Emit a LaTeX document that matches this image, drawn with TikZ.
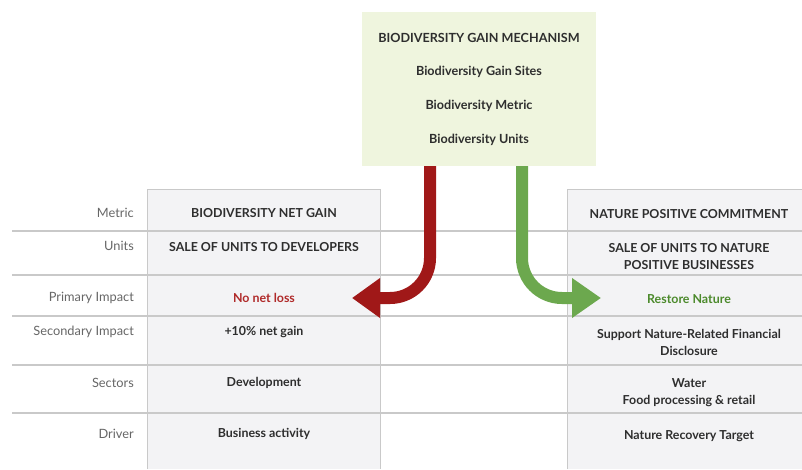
\documentclass[tikz,border=0pt]{standalone}
\usepackage{fontspec}
\setmainfont{Lato}
\usetikzlibrary{arrows.meta}
\definecolor{mechfill}{HTML}{EFF5DE}
\definecolor{colfill}{HTML}{F3F3F5}
\definecolor{rulegray}{HTML}{C9C9C9}
\definecolor{labgray}{HTML}{666666}
\definecolor{txt}{HTML}{2E2E2E}
\definecolor{redarrow}{HTML}{A01818}
\definecolor{greenarrow}{HTML}{6CA84E}
\definecolor{redtxt}{HTML}{B02A2A}
\definecolor{greentxt}{HTML}{4C8A2C}
\tikzset{
  rowlabel/.style={anchor=east, text=labgray, font=\fontsize{12.8}{14}\selectfont, inner sep=0pt},
  cell/.style={text=txt, font=\bfseries\fontsize{12.4}{17}\selectfont, align=center, inner sep=0pt},
  mechtxt/.style={text=txt, font=\bfseries\fontsize{12.6}{14}\selectfont, inner sep=0pt},
  rowrule/.style={draw=rulegray, line width=1.4pt},
  flow/.style={line width=12pt, rounded corners=40pt},
}
\begin{document}
\begin{tikzpicture}[x=1pt,y=-1pt]
\useasboundingbox (0,0) rectangle (802,469);
% columns
\fill[colfill] (147,189) rectangle (380,469);
\draw[rulegray, line width=1pt] (147,469) -- (147,189) -- (380,189) -- (380,469);
\fill[colfill] (567,189) rectangle (802,469);
\draw[rulegray, line width=1pt] (567,469) -- (567,189) -- (802,189);
% row rules
\foreach \yy in {231,275,316,365,413}
  \draw[rowrule] (12,\yy) -- (802,\yy);
% mechanism box
\node[fill=mechfill, minimum width=234pt, minimum height=154pt, inner sep=0pt] (mech) at (479,89) {};
\node[mechtxt] (m1) at (479,38) {BIODIVERSITY GAIN MECHANISM};
\node[mechtxt] (m2) at (479,72) {Biodiversity Gain Sites};
\node[mechtxt] (m3) at (479,106) {Biodiversity Metric};
\node[mechtxt] (m4) at (479,140) {Biodiversity Units};
% row labels
\node[rowlabel] (l1) at (134,213) {Metric};
\node[rowlabel] (l2) at (134,246) {Units};
\node[rowlabel] (l3) at (134,298) {Primary Impact};
\node[rowlabel] (l4) at (134,332) {Secondary Impact};
\node[rowlabel] (l5) at (134,383) {Sectors};
\node[rowlabel] (l6) at (134,434) {Driver};
% left column
\node[cell] (a1) at (264,213) {BIODIVERSITY NET GAIN};
\node[cell] (a2) at (264,247) {SALE OF UNITS TO DEVELOPERS};
\node[cell, text=redtxt] (a3) at (264,298) {No net loss};
\node[cell] (a4) at (264,332) {+10\% net gain};
\node[cell] (a5) at (264,383) {Development};
\node[cell] (a6) at (264,434) {Business activity};
% right column
\node[cell] (b1) at (689,214) {NATURE POSITIVE COMMITMENT};
\node[cell] (b2) at (689,256.5) {SALE OF UNITS TO NATURE\\POSITIVE BUSINESSES};
\node[cell, text=greentxt] (b3) at (689,299) {Restore Nature};
\node[cell] (b4) at (689,342.5) {Support Nature-Related Financial\\Disclosure};
\node[cell] (b5) at (689,392.5) {Water\\Food processing \& retail};
\node[cell] (b6) at (689,436) {Nature Recovery Target};
% arrows
\coordinate (redtip) at (352,298);
\coordinate (greentip) at (601,298);
\draw[flow, redarrow, -{Triangle[length=28pt,width=38pt]}] ([xshift=-49pt]mech.south) |- (redtip);
\draw[flow, greenarrow, -{Triangle[length=29pt,width=38pt]}] ([xshift=43pt]mech.south) |- (greentip);
\end{tikzpicture}
\end{document}
